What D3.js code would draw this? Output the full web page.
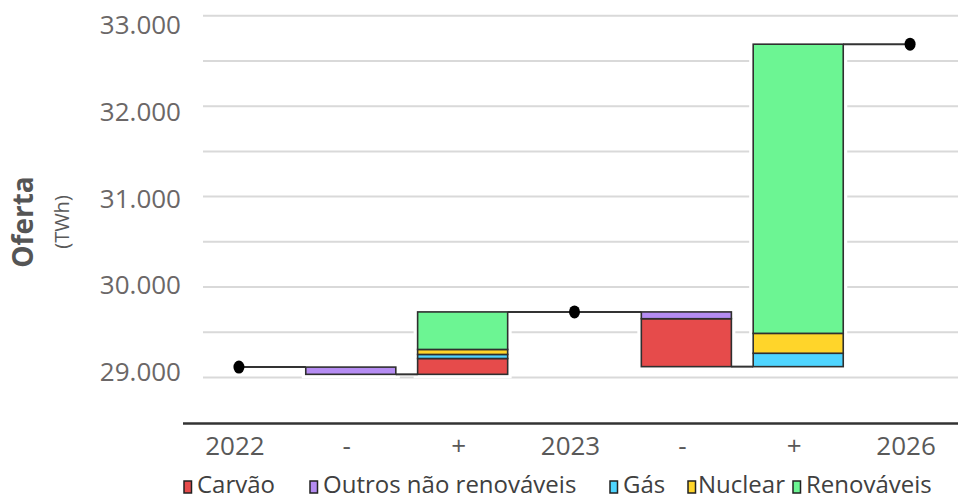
<!DOCTYPE html>
<html>
<head>
<meta charset="utf-8">
<script src="https://cdn.jsdelivr.net/npm/d3@7"></script>
<style>
  html, body { margin: 0; padding: 0; background: #fff; }
  svg { display: block; font-family: "Open Sans", sans-serif; }
</style>
</head>
<body>
<svg id="chart" width="958" height="501"></svg>
<script>
// ---- data ----
const categories = ["2022", "-", "+", "2023", "-", "+", "2026"];
const seriesNames = ["Carvão", "Outros não renováveis", "Gás", "Nuclear", "Renováveis"];
const seriesColors = ["#e64b4b", "#b58cf2", "#4fd5ff", "#ffd52a", "#6cf593"];
const totals = [29115, null, null, 29725, null, null, 32685];
const carvao = [0, 0, 175, 0, -530, 0, 0];
const outros = [0, -80, 0, 0, -75, 0, 0];
const gas = [0, 0, 45, 0, 0, 148, 0];
const nuclear = [0, 0, 55, 0, 0, 220, 0];
const renovaveis = [0, 0, 415, 0, 0, 3197, 0];
const yTicks = [29000, 30000, 31000, 32000, 33000];
const yGrid = [29000, 29500, 30000, 30500, 31000, 31500, 32000, 32500, 33000];

const seriesValues = [carvao, outros, gas, nuclear, renovaveis];

// ---- scales ----
const svg = d3.select("#chart");
const y = d3.scaleLinear().domain([29000, 33000]).range([377.5, 15.7]);
const yLabel = d3.scaleLinear().domain([29000, 33000]).range([372, 25.5]);
const x = d3.scaleBand().domain(d3.range(categories.length))
  .range([183, 966]).paddingInner(0.195).paddingOuter(0.0975);

// gridlines
svg.append("g").selectAll("line").data(yGrid).join("line")
  .attr("x1", 203).attr("x2", 958)
  .attr("y1", d => y(d)).attr("y2", d => y(d))
  .attr("stroke", "#d9d9d9").attr("stroke-width", 2);

// y tick labels
const yAxis = svg.append("g").attr("transform", "translate(181,0)")
  .call(d3.axisLeft(yLabel).tickValues(yTicks).tickSize(0).tickPadding(0)
    .tickFormat(d => d3.format(",")(d).replace(/,/g, ".")));
yAxis.select(".domain").remove();
yAxis.selectAll("text").attr("font-size", 26).attr("fill", "#6b6767")
  .attr("font-family", "Open Sans, sans-serif");

// axis title
svg.append("text").attr("transform", "translate(23,222) rotate(-90)")
  .attr("text-anchor", "middle").attr("dy", "0.35em")
  .attr("font-size", 28).attr("font-weight", "bold").attr("fill", "#555")
  .text("Oferta");
svg.append("text").attr("transform", "translate(62,222) rotate(-90)")
  .attr("text-anchor", "middle").attr("dy", "0.35em")
  .attr("font-size", 20).attr("fill", "#595959")
  .text("(TWh)");

// ---- waterfall computation ----
let level = totals[0];
const items = [];
categories.forEach((c, i) => {
  if (totals[i] !== null) {
    level = totals[i];
    items.push({ i, type: "total", start: level, end: level });
  } else {
    const vals = seriesValues.map(s => s[i]);
    const neg = d3.sum(vals.filter(v => v < 0));
    const pos = d3.sum(vals.filter(v => v > 0));
    const segs = [];
    let b = level + neg;
    vals.forEach((v, k) => { if (v < 0) { segs.push({ k, y0: b, y1: b - v }); b -= v; } });
    let t = level;
    vals.forEach((v, k) => { if (v > 0) { segs.push({ k, y0: t, y1: t + v }); t += v; } });
    items.push({ i, type: "bar", start: level, end: level + neg + pos, lo: level + neg, hi: level + pos, segs });
    level = level + neg + pos;
  }
});
const bars = items.filter(d => d.type === "bar");

// white halo around bars (interrupts gridlines)
svg.append("g").selectAll("rect").data(bars).join("rect")
  .attr("x", d => x(d.i)).attr("width", x.bandwidth())
  .attr("y", d => y(d.hi)).attr("height", d => y(d.lo) - y(d.hi))
  .attr("fill", "#fff").attr("stroke", "#fff").attr("stroke-width", 8);

// connectors
const conn = [];
for (let j = 0; j < items.length - 1; j++) {
  const a = items[j], b = items[j + 1];
  const xa = a.type === "total" ? x(a.i) + x.bandwidth() / 2 : x(a.i) + x.bandwidth();
  const xb = b.type === "total" ? x(b.i) + x.bandwidth() / 2 : x(b.i);
  conn.push({ x1: xa, x2: xb, v: a.end });
}
svg.append("g").selectAll("line").data(conn).join("line")
  .attr("x1", d => d.x1).attr("x2", d => d.x2)
  .attr("y1", d => y(d.v)).attr("y2", d => y(d.v))
  .attr("stroke", "#333").attr("stroke-width", 2);

// bars
const gb = svg.append("g");
bars.forEach(b => {
  gb.append("g").selectAll("rect").data(b.segs).join("rect")
    .attr("x", x(b.i)).attr("width", x.bandwidth())
    .attr("y", d => y(d.y1)).attr("height", d => y(d.y0) - y(d.y1))
    .attr("fill", d => seriesColors[d.k])
    .attr("stroke", "#2f2f2f").attr("stroke-width", 1.6);
});

// total dots
svg.append("g").selectAll("ellipse").data(items.filter(d => d.type === "total")).join("ellipse")
  .attr("cx", d => x(d.i) + x.bandwidth() / 2).attr("cy", d => y(d.end))
  .attr("rx", 5.5).attr("ry", 6.5).attr("fill", "#000");

// x axis
svg.append("line").attr("x1", 183).attr("x2", 958).attr("y1", 423.5).attr("y2", 423.5)
  .attr("stroke", "#333").attr("stroke-width", 2.5);
svg.append("g").selectAll("text").data(categories).join("text")
  .attr("x", (d, i) => x(i) + x.bandwidth() / 2 - 4).attr("y", 455)
  .attr("text-anchor", "middle").attr("font-size", 26).attr("fill", "#595959")
  .text(d => d);

// legend
const legendX = [184, 310, 610, 688, 793];
const lg = svg.append("g");
seriesNames.forEach((n, k) => {
  lg.append("rect").attr("x", legendX[k]).attr("y", 481).attr("width", 7.5).attr("height", 12)
    .attr("fill", seriesColors[k]).attr("stroke", "#222").attr("stroke-width", 1.5);
  lg.append("text").attr("x", legendX[k] + (k === 3 ? 10 : 13)).attr("y", 493)
    .attr("font-size", 24).attr("fill", "#404040").text(n);
});
</script>
</body>
</html>
